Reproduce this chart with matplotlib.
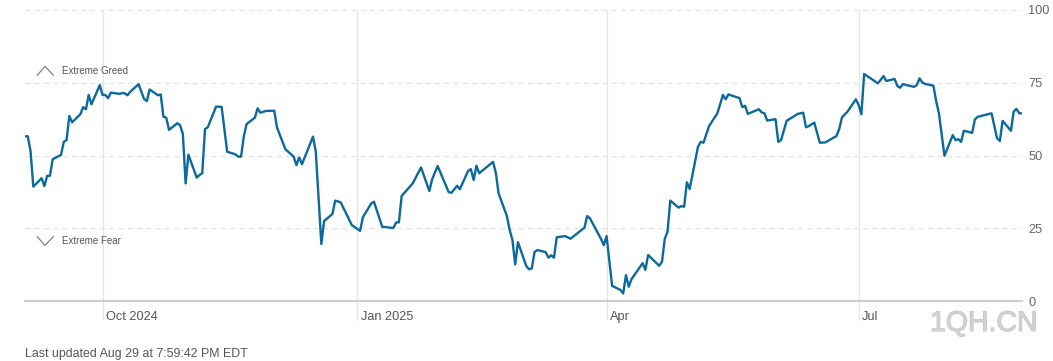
import matplotlib
matplotlib.use("Agg")
import matplotlib.pyplot as plt
import matplotlib.transforms as mtransforms
import matplotlib.patheffects as pe
from matplotlib.lines import Line2D
import pandas as pd

# ---------------- data ----------------
dates = [
    "2024-09-03", "2024-09-04", "2024-09-05", "2024-09-06", "2024-09-09", "2024-09-10",
    "2024-09-11", "2024-09-12", "2024-09-13", "2024-09-16", "2024-09-17", "2024-09-18",
    "2024-09-19", "2024-09-20", "2024-09-23", "2024-09-24", "2024-09-25", "2024-09-26",
    "2024-09-27", "2024-09-30", "2024-10-01", "2024-10-02", "2024-10-03", "2024-10-04",
    "2024-10-07", "2024-10-08", "2024-10-09", "2024-10-10", "2024-10-11", "2024-10-14",
    "2024-10-16", "2024-10-17", "2024-10-18", "2024-10-21", "2024-10-22", "2024-10-23",
    "2024-10-24", "2024-10-25", "2024-10-28", "2024-10-29", "2024-10-30", "2024-10-31",
    "2024-11-01", "2024-11-04", "2024-11-05", "2024-11-06", "2024-11-07", "2024-11-08",
    "2024-11-11", "2024-11-13", "2024-11-15", "2024-11-18", "2024-11-19", "2024-11-20",
    "2024-11-21", "2024-11-22", "2024-11-25", "2024-11-26", "2024-11-27", "2024-11-29",
    "2024-12-02", "2024-12-03", "2024-12-06", "2024-12-09", "2024-12-10", "2024-12-11",
    "2024-12-12", "2024-12-16", "2024-12-17", "2024-12-19", "2024-12-20", "2024-12-23",
    "2024-12-24", "2024-12-26", "2024-12-30", "2025-01-02", "2025-01-03", "2025-01-06",
    "2025-01-07", "2025-01-10", "2025-01-14", "2025-01-15", "2025-01-16", "2025-01-17",
    "2025-01-21", "2025-01-24", "2025-01-27", "2025-01-28", "2025-01-30", "2025-02-03",
    "2025-02-04", "2025-02-06", "2025-02-07", "2025-02-10", "2025-02-11", "2025-02-12",
    "2025-02-13", "2025-02-14", "2025-02-19", "2025-02-20", "2025-02-21", "2025-02-24",
    "2025-02-25", "2025-02-26", "2025-02-27", "2025-02-28", "2025-03-03", "2025-03-04",
    "2025-03-05", "2025-03-06", "2025-03-07", "2025-03-10", "2025-03-11", "2025-03-12",
    "2025-03-13", "2025-03-14", "2025-03-17", "2025-03-19", "2025-03-24", "2025-03-25",
    "2025-03-26", "2025-03-30", "2025-03-31", "2025-04-01", "2025-04-03", "2025-04-06",
    "2025-04-07", "2025-04-08", "2025-04-09", "2025-04-10", "2025-04-14", "2025-04-15",
    "2025-04-16", "2025-04-20", "2025-04-21", "2025-04-22", "2025-04-23", "2025-04-24",
    "2025-04-27", "2025-04-28", "2025-04-29", "2025-04-30", "2025-05-01", "2025-05-04",
    "2025-05-05", "2025-05-06", "2025-05-08", "2025-05-11", "2025-05-13", "2025-05-14",
    "2025-05-15", "2025-05-19", "2025-05-20", "2025-05-21", "2025-05-22", "2025-05-26",
    "2025-05-27", "2025-05-28", "2025-05-29", "2025-06-01", "2025-06-02", "2025-06-03",
    "2025-06-05", "2025-06-09", "2025-06-11", "2025-06-12", "2025-06-13", "2025-06-15",
    "2025-06-17", "2025-06-19", "2025-06-23", "2025-06-24", "2025-06-25", "2025-06-27",
    "2025-06-30", "2025-07-01", "2025-07-02", "2025-07-03", "2025-07-08", "2025-07-10",
    "2025-07-11", "2025-07-14", "2025-07-15", "2025-07-16", "2025-07-17", "2025-07-21",
    "2025-07-22", "2025-07-23", "2025-07-24", "2025-07-25", "2025-07-28", "2025-07-29",
    "2025-07-30", "2025-08-01", "2025-08-04", "2025-08-05", "2025-08-06", "2025-08-07",
    "2025-08-08", "2025-08-11", "2025-08-12", "2025-08-13", "2025-08-18", "2025-08-20",
    "2025-08-21", "2025-08-22", "2025-08-25", "2025-08-26", "2025-08-27", "2025-08-28",
    "2025-08-29",
]
values = [
    56.6, 56.6, 51.5, 39.3, 42.2, 39.5,
    43.0, 43.0, 48.7, 50.2, 54.7, 55.3,
    63.6, 61.4, 64.2, 66.6, 65.9, 70.8,
    67.6, 74.2, 70.8, 70.8, 69.7, 71.6,
    71.2, 71.4, 71.4, 70.7, 71.9, 74.5,
    69.4, 68.7, 72.7, 70.7, 71.0, 63.3,
    63.0, 58.8, 61.1, 60.4, 57.4, 40.4,
    50.3, 42.4, 43.3, 43.9, 59.1, 59.7,
    66.8, 66.7, 51.3, 50.4, 49.6, 49.6,
    56.5, 60.8, 63.0, 66.2, 64.7, 65.3,
    65.4, 59.6, 52.2, 49.6, 46.7, 49.3,
    47.0, 56.5, 51.3, 19.6, 27.5, 29.9,
    34.5, 33.9, 26.1, 24.1, 28.8, 33.5,
    34.1, 25.5, 25.1, 27.0, 27.0, 36.1,
    40.4, 45.9, 37.8, 41.8, 46.4, 37.4,
    37.2, 39.6, 38.4, 44.7, 45.3, 41.6,
    46.5, 43.9, 47.8, 44.1, 37.0, 29.2,
    24.4, 21.0, 12.6, 20.2, 12.0, 10.9,
    11.2, 16.9, 17.5, 16.8, 14.9, 15.7,
    14.9, 21.9, 22.3, 21.4, 25.2, 29.2,
    28.4, 21.3, 19.2, 22.3, 5.2, 3.8,
    2.6, 8.9, 4.9, 7.5, 13.0, 10.7,
    15.8, 12.1, 13.5, 21.3, 23.8, 34.5,
    32.1, 32.6, 32.4, 40.8, 38.5, 53.0,
    54.7, 54.4, 60.1, 64.5, 70.8, 69.3,
    71.0, 69.7, 66.6, 67.1, 64.3, 65.9,
    64.8, 64.5, 62.0, 62.5, 54.7, 55.3,
    61.9, 64.3, 64.7, 59.7, 60.1, 61.3,
    54.4, 54.5, 56.7, 59.1, 63.1, 65.1,
    69.3, 67.4, 64.2, 78.0, 74.8, 77.3,
    75.6, 76.3, 73.9, 73.3, 74.5, 73.6,
    74.2, 76.5, 75.1, 74.6, 74.0, 68.7,
    64.5, 49.9, 57.0, 55.3, 55.6, 54.7,
    58.5, 57.8, 62.4, 63.3, 64.5, 55.9,
    55.0, 61.9, 58.5, 65.1, 66.0, 64.5,
    64.5,
]
y_ticks = [0, 25, 50, 75, 100]
x_tick_dates = ["2024-10-01", "2025-01-01", "2025-04-01", "2025-07-01"]
x_tick_labels = ["Oct 2024", "Jan 2025", "Apr", "Jul"]
x_range = ["2024-09-03", "2025-08-29"]
zone_labels = ["Extreme Greed", "Extreme Fear"]
zone_levels = [79.1, 20.6]
updated_text = "Last updated Aug 29 at 7:59:42 PM EDT"
watermark_text = "1QH.CN"

# ---------------- figure ----------------
plt.rcParams["font.family"] = ["Liberation Sans", "DejaVu Sans"]
W, H = 1053, 361
fig = plt.figure(figsize=(W / 100, H / 100), dpi=100)
fig.patch.set_facecolor("white")
ax = fig.add_axes([25 / W, 1 - 301 / H, (1022 - 25) / W, 291 / H])
ax.set_facecolor("none")

x = pd.to_datetime(dates)
ax.set_xlim(pd.Timestamp(x_range[0]), pd.Timestamp(x_range[1]))
ax.set_ylim(0, 100)

# grid
for v in y_ticks[1:]:
    ax.axhline(v, color="#e4e4e4", lw=1.0, linestyle=(0, (3.5, 3.2)), zorder=1, clip_on=False)
ax.axhline(0, color="#cfcfcf", lw=1.6, zorder=2, clip_on=False)
ax.set_xticks(pd.to_datetime(x_tick_dates))
ax.grid(axis="x", color="#e6e6e6", lw=1.0, zorder=1)
ax.tick_params(axis="x", length=14, width=1.0, color="#e6e6e6", labelbottom=False)

ax.plot(x, values, color="#0b6a9b", lw=1.7, zorder=3, solid_joinstyle="round")

for s in ax.spines.values():
    s.set_visible(False)

ax.set_yticks(y_ticks)
ax.yaxis.tick_right()
ax.tick_params(axis="y", length=0, pad=4.5, labelsize=9.2, labelcolor="#666666")

# x tick labels beside grid lines
trans = mtransforms.blended_transform_factory(ax.transData, ax.transAxes)
trans_off = mtransforms.offset_copy(trans, fig=fig, x=2.5, y=0, units="points")
for d, lab in zip(pd.to_datetime(x_tick_dates), x_tick_labels):
    ax.text(d, -0.055, lab, transform=trans_off, ha="left", va="center",
            fontsize=9.2, color="#555555")

# zone labels with chevrons
ytrans = mtransforms.blended_transform_factory(ax.transAxes, ax.transData)
for lab, lvl, up in zip(zone_labels, zone_levels, [True, False]):
    ax.text(0.0368, lvl, lab, transform=ytrans, ha="left", va="center",
            fontsize=7, color="#555555")
    dy = 1.5 if up else -1.5
    ax.add_line(Line2D([0.0123, 0.0201, 0.0284], [lvl - dy, lvl + dy, lvl - dy],
                       transform=ytrans, color="#808080", lw=0.9, clip_on=False))

fig.text(25 / W, 1 - 354 / H, updated_text, ha="left", va="center",
         fontsize=8.9, color="#555555")

fig.text(930 / W, 1 - 324 / H, watermark_text, ha="left", va="center",
         fontsize=20.5, color="#d2d2d2",
         path_effects=[pe.withStroke(linewidth=0.8, foreground="#c2c2c2")])

fig.savefig("out.png", dpi=100, facecolor="white")
